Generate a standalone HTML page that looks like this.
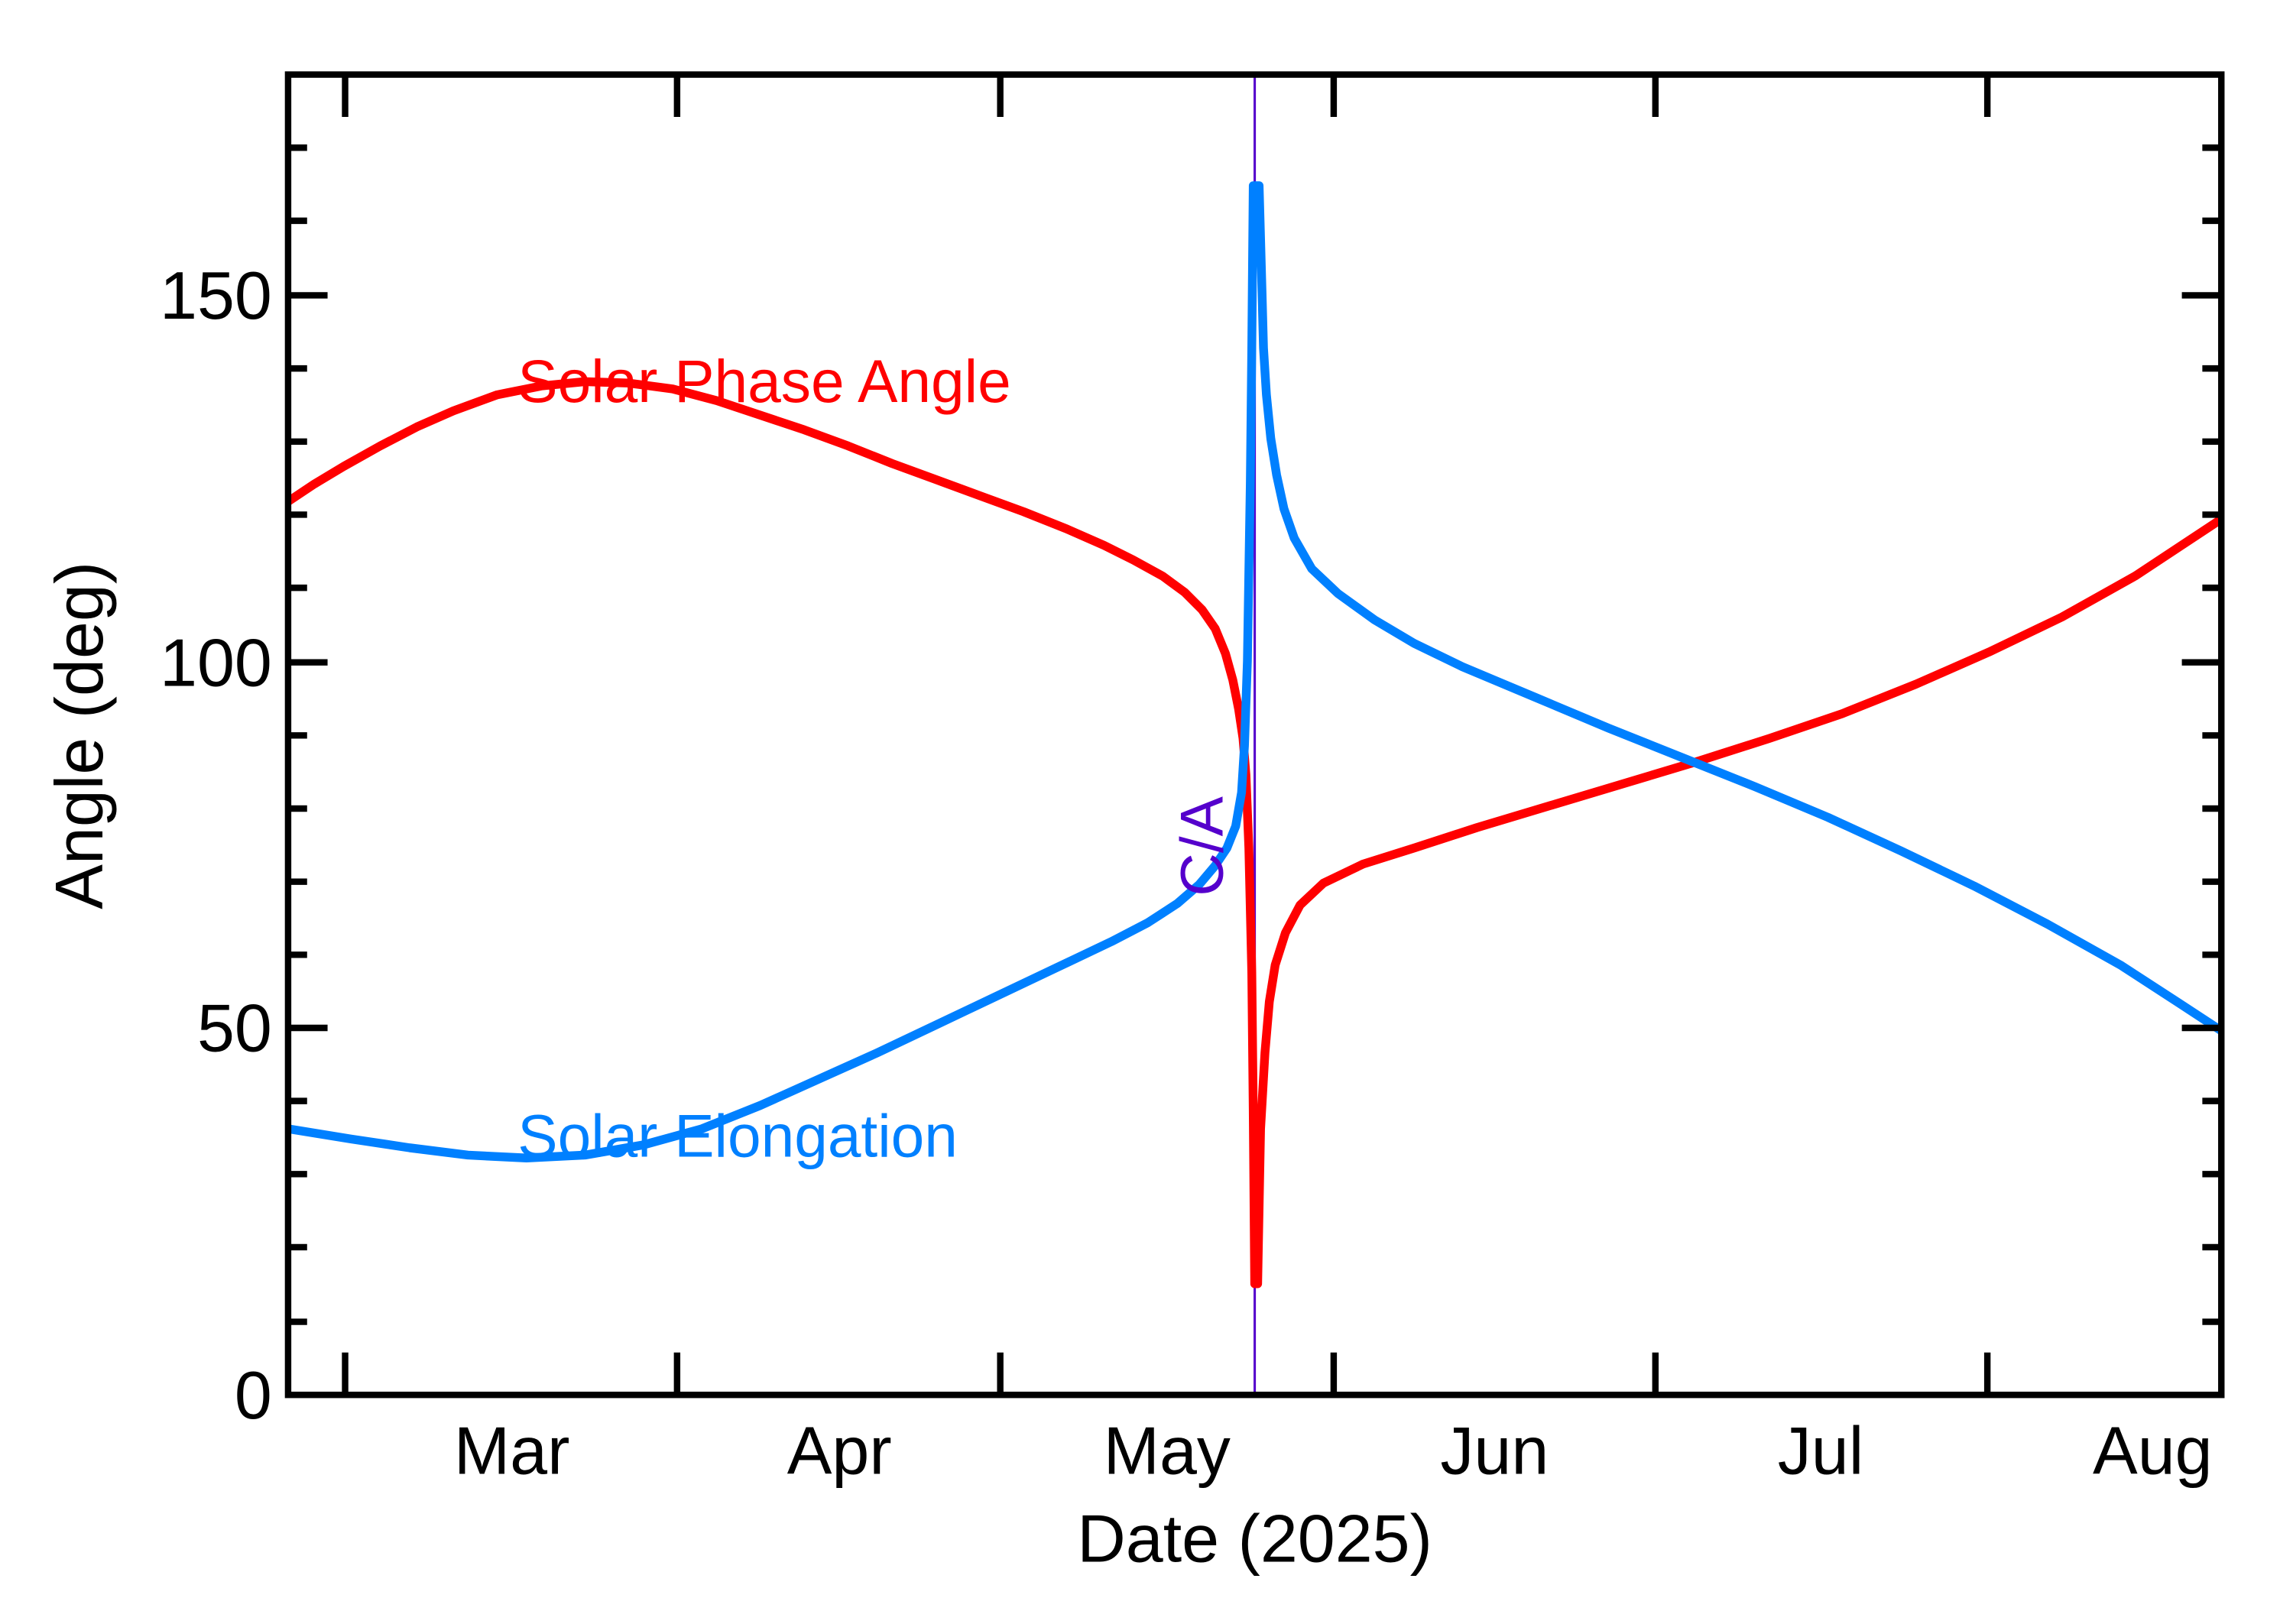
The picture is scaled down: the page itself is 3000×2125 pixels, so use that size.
<!DOCTYPE html>
<html><head><style>html,body{margin:0;padding:0;background:#fff}svg{display:block}</style></head>
<body>
<svg width="3000" height="2125" viewBox="0 0 1568 1110.7" preserveAspectRatio="none" xmlns="http://www.w3.org/2000/svg" font-family="Liberation Sans, sans-serif">
<rect width="1568" height="1111" fill="#fff"/>
<line x1="858" y1="51" x2="858" y2="954" stroke="#5500cc" stroke-width="1.6"/>
<polyline fill="none" stroke="#ff0000" stroke-width="6" stroke-linejoin="round" points="197,343 215,331 235,319 260,305 285,292 310,281 340,270 370,264 400,261 430,262 460,266 490,274 520,284 550,294 580,305 610,317 640,328 670,339 700,350 730,362 755,373 775,383 795,394 810,405 822,417 831,430 838,447 843,465 847,485 850,505 852,530 854,580 856,665 857,760 858,878 860,878 862,772 865,720 868,685 872,660 879,638 889,619 905,604 932,591 967,580 1010,566 1060,551 1110,536 1160,521 1210,505 1260,488 1310,468 1360,446 1410,422 1460,394 1519,355"/>
<polyline fill="none" stroke="#0080ff" stroke-width="6" stroke-linejoin="round" points="197,772 240,779 280,785 320,790 360,792 400,790 440,783 480,772 520,756 560,738 600,720 640,701 680,682 720,663 760,644 785,631 805,618 820,605 831,592 839,580 845,565 849,542 851,510 853,452 855,330 856,238 857,127 861,127 863,200 864,238 866,270 869,300 873,325 878,348 885,368 897,389 915,406 940,424 967,440 1000,456 1050,477 1100,498 1155,520 1200,538 1250,559 1300,582 1350,606 1400,632 1450,660 1490,686 1519,705"/>
<g stroke="#000" stroke-width="4.4" fill="none">
<rect x="197" y="51" width="1322" height="903"/>
<path d="M197 904h13M197 853h13M197 803h13M197 753h13M197 653h13M197 603h13M197 553h13M197 503h13M197 402h13M197 352h13M197 302h13M197 252h13M197 151h13M197 101h13"/>
<path d="M197 703h27M197 453h27M197 202h27"/>
<path d="M1519 904h-13M1519 853h-13M1519 803h-13M1519 753h-13M1519 653h-13M1519 603h-13M1519 553h-13M1519 503h-13M1519 402h-13M1519 352h-13M1519 302h-13M1519 252h-13M1519 151h-13M1519 101h-13"/>
<path d="M1519 703h-27M1519 453h-27M1519 202h-27"/>
<path d="M236 954v-29M463 954v-29M684 954v-29M912 954v-29M1132 954v-29M1359 954v-29"/>
<path d="M236 51v29M463 51v29M684 51v29M912 51v29M1132 51v29M1359 51v29"/>
</g>
<g font-size="46" fill="#000">
<text x="186" y="970" text-anchor="end">0</text>
<text x="186" y="719" text-anchor="end">50</text>
<text x="186" y="469" text-anchor="end">100</text>
<text x="186" y="218" text-anchor="end">150</text>
<text x="350" y="1008" text-anchor="middle">Mar</text>
<text x="574" y="1008" text-anchor="middle">Apr</text>
<text x="798" y="1008" text-anchor="middle">May</text>
<text x="1022" y="1008" text-anchor="middle">Jun</text>
<text x="1245" y="1008" text-anchor="middle">Jul</text>
<text x="1472" y="1008" text-anchor="middle">Aug</text>
<text x="858" y="1068" text-anchor="middle">Date (2025)</text>
<text transform="translate(70 503) rotate(-90)" text-anchor="middle">Angle (deg)</text>
</g>
<text x="354" y="275" font-size="41" fill="#ff0000">Solar Phase Angle</text>
<text x="354" y="791" font-size="41" fill="#0080ff">Solar Elongation</text>
<text transform="translate(836 613) rotate(-90)" font-size="41" fill="#5500cc">C/A</text>
</svg>
</body></html>
